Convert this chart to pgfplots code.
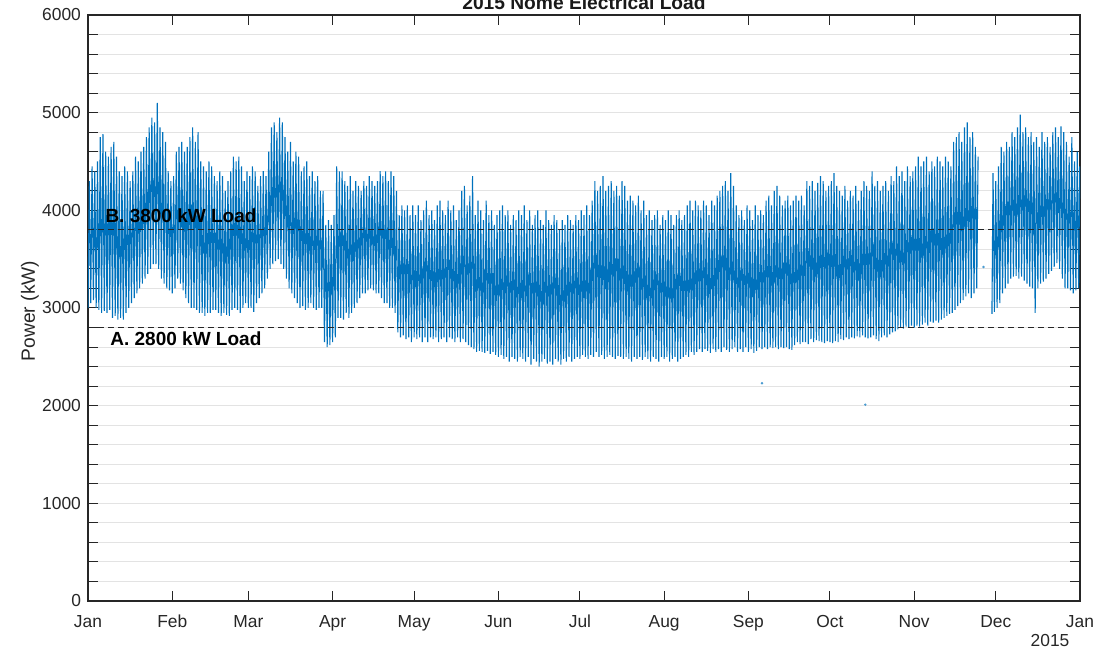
\documentclass[border=0pt]{standalone}
\usepackage{fontspec}
\setmainfont{Liberation Sans}
\usepackage{pgfplots}
\pgfplotsset{compat=1.18}
\definecolor{mblue}{rgb}{0,0.447,0.741}
\definecolor{axgray}{gray}{0.15}
\begin{document}
\begin{tikzpicture}
\begin{axis}[name=ax, scale only axis, width=496pt, height=293pt,
  xmin=0, xmax=365, ymin=0, ymax=6000,
  xtick={0,31,59,90,120,151,181,212,243,273,304,334,365},
  xticklabels={Jan,Feb,Mar,Apr,May,Jun,Jul,Aug,Sep,Oct,Nov,Dec,Jan},
  ytick={0,1000,...,6000}, minor y tick num=4,
  ymajorgrids, yminorgrids,
  major grid style={gray!22, line width=0.5pt},
  minor grid style={gray!22, line width=0.5pt},
  tick align=inside, major tick length=5pt, minor tick length=5pt,
  tick style={axgray, line width=0.5pt},
  axis line style={axgray, line width=0.6pt},
  ticklabel style={font=\fontsize{8.7}{10}\selectfont, text=axgray},
  xticklabel style={yshift=-3.5pt},
  /pgf/number format/assume math mode=true,
  /pgf/number format/1000 sep={},
  ylabel={Power (kW)},
  ylabel style={at={(rel axis cs:-0.0585,0.495)}, anchor=center, font=\fontsize{9.6}{11}\selectfont, text=axgray},
]
% Jan - Nov (daily low, then daily high)
\addplot[mblue, line width=0.55pt, no markers] coordinates {
(0,3000)(0.5,4300)(1,3050)(1.5,4450)(2,3080)(2.5,4400)(3,3000)(3.5,4500)(4,2980)(4.5,4750)(5,2950)(5.5,4780)(6,2970)(6.5,4600)
(7,2950)(7.5,4550)(8,2980)(8.5,4650)(9,2900)(9.5,4700)(10,2920)(10.5,4550)(11,2880)(11.5,4400)(12,2900)(12.5,4350)(13,2880)(13.5,4450)
(14,2950)(14.5,4400)(15,3000)(15.5,4300)(16,3050)(16.5,4400)(17,3100)(17.5,4550)(18,3150)(18.5,4500)(19,3200)(19.5,4600)(20,3250)(20.5,4650)
(21,3300)(21.5,4750)(22,3350)(22.5,4850)(23,3400)(23.5,4950)(24,3450)(24.5,4900)(25,3450)(25.5,5100)(26,3400)(26.5,4850)(27,3300)(27.5,4800)
(28,3250)(28.5,4700)(29,3200)(29.5,4400)(30,3180)(30.5,4300)(31,3150)(31.5,4350)(32,3200)(32.5,4600)(33,3300)(33.5,4650)(34,3250)(34.5,4700)
(35,3180)(35.5,4600)(36,3100)(36.5,4650)(37,3050)(37.5,4750)(38,3000)(38.5,4850)(39,3000)(39.5,4700)(40,2980)(40.5,4800)(41,2950)(41.5,4500)
(42,2950)(42.5,4450)(43,2920)(43.5,4400)(44,2950)(44.5,4500)(45,2950)(45.5,4450)(46,2980)(46.5,4350)(47,2980)(47.5,4300)(48,2950)(48.5,4400)
(49,2920)(49.5,4350)(50,2950)(50.5,4200)(51,2930)(51.5,4300)(52,2920)(52.5,4400)(53,2980)(53.5,4550)(54,3000)(54.5,4500)(55,2980)(55.5,4550)
(56,2950)(56.5,4450)(57,3000)(57.5,4300)(58,3050)(58.5,4400)(59,3000)(59.5,4350)(60,3000)(60.5,4450)(61,2960)(61.5,4400)(62,3050)(62.5,4250)
(63,3100)(63.5,4350)(64,3150)(64.5,4400)(65,3200)(65.5,4350)(66,3300)(66.5,4600)(67,3400)(67.5,4850)(68,3450)(68.5,4900)(69,3480)(69.5,4800)
(70,3500)(70.5,4950)(71,3450)(71.5,4900)(72,3400)(72.5,4750)(73,3300)(73.5,4600)(74,3200)(74.5,4700)(75,3150)(75.5,4500)(76,3100)(76.5,4600)
(77,3050)(77.5,4550)(78,3000)(78.5,4400)(79,3020)(79.5,4450)(80,2980)(80.5,4500)(81,3000)(81.5,4350)(82,3050)(82.5,4400)(83,3000)(83.5,4300)
(84,2980)(84.5,4350)(85,3000)(85.5,4200)(86,3000)(86.5,4200)(87,2650)(87.5,3850)(88,2600)(88.5,3900)(89,2620)(89.5,3850)
(90,2650)(90.5,3950)(91,2700)(91.5,4450)(92,2900)(92.5,4400)(93,2900)(93.5,4400)(94,2880)(94.5,4300)(95,2950)(95.5,4250)(96,2900)(96.5,4350)
(97,2950)(97.5,4200)(98,3000)(98.5,4300)(99,3050)(99.5,4250)(100,3100)(100.5,4200)(101,3150)(101.5,4300)(102,3150)(102.5,4250)(103,3180)(103.5,4350)
(104,3200)(104.5,4300)(105,3180)(105.5,4250)(106,3150)(106.5,4300)(107,3150)(107.5,4400)(108,3100)(108.5,4350)(109,3050)(109.5,4400)(110,3050)(110.5,4300)
(111,3000)(111.5,4400)(112,3000)(112.5,4350)(113,2950)(113.5,4200)(114,2750)(114.5,3950)(115,2700)(115.5,4050)(116,2720)(116.5,4000)(117,2680)(117.5,4050)
(118,2700)(118.5,3950)(119,2650)(119.5,4050)(120,2700)(120.5,3950)(121,2680)(121.5,4050)(122,2700)(122.5,3900)(123,2650)(123.5,4000)(124,2700)(124.5,4100)
(125,2650)(125.5,3950)(126,2700)(126.5,4000)(127,2680)(127.5,3900)(128,2700)(128.5,4050)(129,2650)(129.5,4100)(130,2680)(130.5,4000)(131,2700)(131.5,3950)
(132,2650)(132.5,4100)(133,2700)(133.5,4000)(134,2680)(134.5,4050)(135,2650)(135.5,3900)(136,2700)(136.5,4000)(137,2650)(137.5,4200)(138,2680)(138.5,4250)
(139,2650)(139.5,4050)(140,2620)(140.5,4150)(141,2600)(141.5,4350)(142,2580)(142.5,3950)(143,2550)(143.5,4100)(144,2560)(144.5,4000)(145,2550)(145.5,3900)
(146,2540)(146.5,4100)(147,2560)(147.5,3950)(148,2530)(148.5,4000)(149,2550)(149.5,3850)(150,2520)(150.5,3950)(151,2500)(151.5,4000)(152,2520)(152.5,4050)
(153,2480)(153.5,3950)(154,2500)(154.5,4000)(155,2450)(155.5,3850)(156,2500)(156.5,3950)(157,2480)(157.5,3900)(158,2450)(158.5,4000)(159,2500)(159.5,3950)
(160,2480)(160.5,4050)(161,2450)(161.5,3900)(162,2500)(162.5,4000)(163,2420)(163.5,3850)(164,2480)(164.5,3950)(165,2450)(165.5,4000)(166,2400)(166.5,3900)
(167,2450)(167.5,3850)(168,2480)(168.5,4000)(169,2430)(169.5,3900)(170,2450)(170.5,3850)(171,2420)(171.5,3950)(172,2480)(172.5,3900)(173,2450)(173.5,3800)
(174,2420)(174.5,3900)(175,2480)(175.5,3850)(176,2450)(176.5,3950)(177,2500)(177.5,3900)(178,2450)(178.5,3850)(179,2480)(179.5,3950)(180,2500)(180.5,3900)
(181,2480)(181.5,4000)(182,2520)(182.5,3950)(183,2500)(183.5,4050)(184,2480)(184.5,3950)(185,2520)(185.5,4100)(186,2500)(186.5,4300)(187,2550)(187.5,4200)
(188,2500)(188.5,4250)(189,2520)(189.5,4350)(190,2480)(190.5,4200)(191,2500)(191.5,4250)(192,2520)(192.5,4300)(193,2500)(193.5,4200)(194,2480)(194.5,4250)
(195,2510)(195.5,4150)(196,2500)(196.5,4300)(197,2480)(197.5,4250)(198,2500)(198.5,4100)(199,2480)(199.5,4150)(200,2450)(200.5,4100)(201,2500)(201.5,4050)
(202,2480)(202.5,4150)(203,2500)(203.5,4000)(204,2470)(204.5,4100)(205,2500)(205.5,3950)(206,2480)(206.5,4000)(207,2450)(207.5,3900)(208,2500)(208.5,3950)
(209,2480)(209.5,4000)(210,2450)(210.5,3850)(211,2500)(211.5,3950)(212,2480)(212.5,3900)(213,2500)(213.5,4000)(214,2450)(214.5,3950)(215,2480)(215.5,3850)
(216,2500)(216.5,3950)(217,2450)(217.5,4000)(218,2480)(218.5,3900)(219,2500)(219.5,3950)(220,2520)(220.5,4050)(221,2500)(221.5,4100)(222,2550)(222.5,4000)
(223,2520)(223.5,4100)(224,2550)(224.5,4050)(225,2580)(225.5,4000)(226,2550)(226.5,4100)(227,2580)(227.5,4050)(228,2560)(228.5,3950)(229,2540)(229.5,4100)
(230,2580)(230.5,4050)(231,2550)(231.5,4150)(232,2580)(232.5,4200)(233,2550)(233.5,4250)(234,2600)(234.5,4300)(235,2570)(235.5,4200)(236,2550)(236.5,4380)
(237,2580)(237.5,4250)(238,2600)(238.5,4050)(239,2550)(239.5,3950)(240,2580)(240.5,4000)(241,2550)(241.5,3900)(242,2600)(242.5,4050)(243,2550)(243.5,4000)
(244,2580)(244.5,3900)(245,2540)(245.5,4050)(246,2560)(246.5,3950)(247,2600)(247.5,4000)(248,2580)(248.5,3950)(249,2600)(249.5,4100)(250,2580)(250.5,4150)
(251,2600)(251.5,4050)(252,2590)(252.5,4200)(253,2600)(253.5,4250)(254,2580)(254.5,4150)(255,2600)(255.5,4050)(256,2590)(256.5,4100)(257,2600)(257.5,4150)
(258,2580)(258.5,4050)(259,2570)(259.5,4100)(260,2620)(260.5,4150)(261,2650)(261.5,4100)(262,2630)(262.5,4150)(263,2650)(263.5,4050)(264,2650)(264.5,4300)
(265,2630)(265.5,4250)(266,2680)(266.5,4300)(267,2650)(267.5,4200)(268,2670)(268.5,4280)(269,2660)(269.5,4350)(270,2650)(270.5,4300)(271,2640)(271.5,4200)
(272,2660)(272.5,4250)
(273,2650)(273.5,4300)(274,2640)(274.5,4380)(275,2660)(275.5,4250)(276,2650)(276.5,4200)(277,2680)(277.5,4150)(278,2670)(278.5,4250)(279,2700)(279.5,4100)
(280,2680)(280.5,4200)(281,2700)(281.5,4150)(282,2690)(282.5,4250)(283,2710)(283.5,4100)(284,2700)(284.5,4200)(285,2720)(285.5,4300)(286,2700)(286.5,4250)
(287,2690)(287.5,4200)(288,2700)(288.5,4400)(289,2720)(289.5,4250)(290,2680)(290.5,4300)(291,2660)(291.5,4200)(292,2700)(292.5,4250)(293,2720)(293.5,4300)
(294,2700)(294.5,4200)(295,2730)(295.5,4350)(296,2750)(296.5,4300)(297,2760)(297.5,4450)(298,2780)(298.5,4350)(299,2800)(299.5,4400)(300,2790)(300.5,4300)
(301,2810)(301.5,4450)(302,2800)(302.5,4350)(303,2820)(303.5,4400)(304,2800)(304.5,4450)(305,2820)(305.5,4550)(306,2810)(306.5,4450)(307,2830)(307.5,4500)
(308,2850)(308.5,4550)(309,2820)(309.5,4400)(310,2860)(310.5,4500)(311,2850)(311.5,4450)(312,2870)(312.5,4550)(313,2850)(313.5,4500)(314,2880)(314.5,4450)
(315,2900)(315.5,4550)(316,2920)(316.5,4500)(317,2940)(317.5,4450)(318,2950)(318.5,4700)(319,2980)(319.5,4750)(320,3020)(320.5,4800)(321,3050)(321.5,4700)
(322,3080)(322.5,4850)(323,3120)(323.5,4900)(324,3150)(324.5,4750)(325,3100)(325.5,4800)(326,3150)(326.5,4650)(327,3200)(327.5,4550)
};
% Dec, after the data gap
\addplot[mblue, line width=0.55pt, no markers] coordinates {
(332.6,2940)(333,4380)(333.5,2960)(334,4300)(334.5,3000)(335,4450)(335.5,3050)(336,4650)(336.5,3150)(337,4600)(337.5,3200)(338,4700)
(338.5,3250)(339,4650)(339.5,3300)(340,4800)(340.5,3320)(341,4750)(341.5,3330)(342,4850)(342.5,3300)(343,4980)(343.5,3320)(344,4800)
(344.5,3280)(345,4850)(345.5,3250)(346,4750)(346.5,3220)(347,4800)(347.5,3200)(348,4700)(348.5,2950)(349,4750)(349.5,3200)(350,4650)
(350.5,3250)(351,4800)(351.5,3270)(352,4700)(352.5,3300)(353,4750)(353.5,3350)(354,4650)(354.5,3380)(355,4800)(355.5,3420)(356,4850)
(356.5,3460)(357,4750)(357.5,3400)(358,4860)(358.5,3300)(359,4800)(359.5,3200)(360,4700)(360.5,3200)(361,4550)(361.5,3180)(362,4750)
(362.5,3150)(363,4500)(363.5,3180)(364,4600)(364.5,3200)(364.9,4450)
};
\addplot[only marks, mark=*, mark size=0.4pt, mblue!70] coordinates {(248,2230)(286,2010)(329.5,3420)};
\addplot[black!85, line width=0.5pt, densely dashed, no markers] coordinates {(0,3800)(365,3800)};
\addplot[black!85, line width=0.5pt, densely dashed, no markers] coordinates {(0,2800)(365,2800)};
\node[anchor=base west, font=\bfseries\fontsize{9.5}{11}\selectfont, inner sep=0pt] at (axis cs:6.3,3880) {B. 3800 kW Load};
\node[anchor=base west, font=\bfseries\fontsize{9.5}{11}\selectfont, inner sep=0pt] at (axis cs:8.1,2611) {A. 2800 kW Load};
\end{axis}
\node[anchor=base, font=\bfseries\fontsize{9.6}{11}\selectfont, text=black!90] at ([yshift=2.5pt]ax.north) {2015 Nome Electrical Load};
\node[anchor=base, font=\fontsize{8.7}{10}\selectfont, text=axgray, inner sep=0pt] at ([xshift=-15pt,yshift=-23pt]ax.south east) {2015};
\pgfresetboundingbox
\path[use as bounding box] ([xshift=-44pt,yshift=-27.5pt]ax.south west) rectangle ++(559.5pt,328pt);
\end{tikzpicture}
\end{document}
